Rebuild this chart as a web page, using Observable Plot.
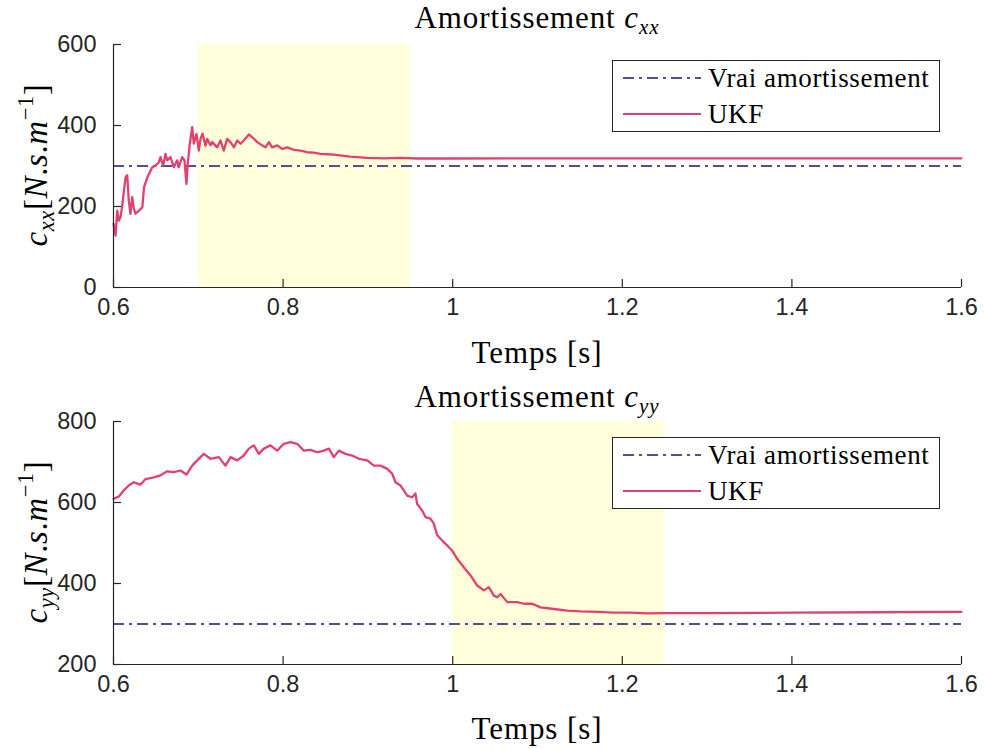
<!DOCTYPE html>
<html><head><meta charset="utf-8">
<script src="https://cdn.jsdelivr.net/npm/d3@7"></script>
<script src="https://cdn.jsdelivr.net/npm/@observablehq/plot@0.6"></script>
<style>
body{margin:0;background:#fff;}
#fig{position:relative;width:984px;height:749px;overflow:hidden;background:#fff;}
.pl{position:absolute;left:0;}
.txt{position:absolute;font-family:"Liberation Serif","Times New Roman",serif;color:#000;white-space:nowrap;transform:translate(-50%,-50%);line-height:1;}
.ttl{font-size:31px;letter-spacing:0.9px;}
.ylab{font-size:33px;letter-spacing:0.6px;transform:translate(-50%,-50%) rotate(-90deg);}
sub,sup{font-size:68%;line-height:0;}
sub{vertical-align:-0.32em;}
sup{vertical-align:0.62em;}
.leg{position:absolute;border:1.3px solid #262626;background:#fff;box-sizing:border-box;}
.legrow{position:absolute;left:0;font-family:"Liberation Serif","Times New Roman",serif;font-size:27px;letter-spacing:0.6px;color:#000;white-space:nowrap;line-height:1;}
.legrow svg{position:absolute;left:9px;}
.legrow span{position:absolute;left:95px;transform:translateY(-50%);}
</style></head>
<body>
<div id="fig"></div>
<script>
// ---------- data ----------
const xDomain = [0.6, 1.6];
const xTicks = [0.6, 0.8, 1, 1.2, 1.4, 1.6];
const cxxTicks = [0, 200, 400, 600];
const cyyTicks = [200, 400, 600, 800];
const cxxTrue = [300];
const cyyTrue = [300];
const cxxBand = [[0.7, 0.95]];
const cyyBand = [[1.0, 1.25]];

const cxxTime = [0.600,0.6024,0.6044,0.6063,0.6083,0.610,0.6142,0.6162,0.618,0.620,0.622,0.624,0.626,0.630,0.634,0.636,0.640,0.6456,0.6495,0.6534,0.6554,0.6586,0.6613,0.6633,0.6672,0.6711,0.6751,0.677,0.681,0.6837,0.686,0.6876,0.690,0.6928,0.6947,0.6979,0.7006,0.7026,0.705,0.7085,0.7105,0.7144,0.7164,0.7223,0.7262,0.730,0.734,0.738,0.742,0.7459,0.7498,0.7537,0.7596,0.7636,0.7695,0.7753,0.7792,0.7832,0.7871,0.793,0.799,0.8048,0.8127,0.8205,0.8284,0.836,0.844,0.852,0.8598,0.879,0.899,0.919,0.938,0.958,0.997,1.2,1.6];
const cxxUKF  = [157,128,190,165,174,198,272,277,215,182,223,195,182,190,198,248,272,297,301,309,322,301,330,314,322,297,314,297,322,314,256,305,355,396,355,379,338,367,380,350,367,351,359,346,363,338,367,359,346,363,355,363,378,371,359,351,346,359,346,351,342,346,340,338,334,333,330,329,328,323,320,319,320,318.5,318.5,319,319];

const cyyTime = [0.600,0.6063,0.6122,0.618,0.624,0.6318,0.6377,0.6475,0.6554,0.6633,0.6711,0.679,0.686,0.6928,0.6987,0.7065,0.7144,0.7242,0.732,0.738,0.7459,0.7537,0.7596,0.7655,0.7714,0.7773,0.785,0.793,0.8008,0.8087,0.8166,0.8244,0.8323,0.840,0.848,0.854,0.8598,0.8657,0.8736,0.8815,0.8893,0.8992,0.907,0.9149,0.9228,0.9287,0.9325,0.9384,0.9423,0.9463,0.9522,0.9561,0.958,0.964,0.9679,0.9738,0.9777,0.9817,0.9876,0.9935,0.9994,1.0053,1.0131,1.021,1.0289,1.0367,1.0426,1.0485,1.0525,1.0564,1.0643,1.076,1.0839,1.0937,1.1035,1.1192,1.135,1.1507,1.1704,1.19,1.2097,1.2294,1.249,1.2686,1.3,1.4,1.5,1.6];
const cyyUKF  = [609,615,630,642,650,644,658,662,667,677,675,679,669,691,704,720,708,712,691,712,704,716,733,741,720,733,741,728,745,749,745,728,730,724,728,733,712,728,720,716,708,704,691,691,683,671,650,642,630,617,613,622,597,580,564,560,548,519,506,494,481,461,440,420,395,383,391,370,366,374,354,354,350,350,341,337,333,331,330,328,328,326,327,327,327,328,329,330];

// ---------- styles ----------
const AX = "#262626";
const UKF_COLOR = "#E2416F";
const TRUE_COLOR = "#5B4A94";
const BAND_COLOR = "#FFFFDB";
const DASH = "11,5,3,5";

function panel(time, vals, trueV, band, yDomain, yTicks, h, mt, mb) {
  const data = time.map((t, i) => ({t, v: vals[i]}));
  const ml = 113, mr = 23, W = 984;
  const innerH = h - mt - mb, innerW = W - ml - mr;
  return Plot.plot({
    width: W, height: h, marginTop: mt, marginBottom: mb, marginLeft: ml, marginRight: mr,
    style: {fontFamily: '"Liberation Sans", Arial, sans-serif', fontSize: "23px", color: AX, background: "transparent", overflow: "visible"},
    x: {domain: xDomain},
    y: {domain: yDomain},
    marks: [
      Plot.rect(band, {x1: d => d[0], x2: d => d[1], fill: BAND_COLOR}),
      Plot.ruleY(trueV, {stroke: TRUE_COLOR, strokeWidth: 2, strokeDasharray: DASH}),
      Plot.line(data, {x: "t", y: "v", stroke: UKF_COLOR, strokeWidth: 2.3, strokeLinejoin: "round"}),
      Plot.ruleX([xDomain[0]], {stroke: AX, strokeWidth: 1.2}),
      Plot.ruleY([yDomain[0]], {stroke: AX, strokeWidth: 1.2}),
      Plot.tickX(xTicks, {x: d => d, insetTop: innerH - 8, stroke: AX, strokeWidth: 1.2}),
      Plot.tickY(yTicks, {y: d => d, insetRight: innerW - 8, stroke: AX, strokeWidth: 1.2}),
      Plot.axisX(xTicks, {tickSize: 0, tickPadding: 11, tickFormat: d => String(d), label: null, fill: AX, fontSize: 23.5}),
      Plot.axisY(yTicks, {tickSize: 0, tickPadding: 17, tickFormat: d => String(d), label: null, fill: AX, fontSize: 23.5})
    ]
  });
}

const fig = document.getElementById("fig");
const topPanel = panel(cxxTime, cxxUKF, cxxTrue, cxxBand, [0, 600], cxxTicks, 374, 44, 87);
topPanel.classList.add("pl"); topPanel.style.top = "0px";
fig.appendChild(topPanel);
const botPanel = panel(cyyTime, cyyUKF, cyyTrue, cyyBand, [200, 800], cyyTicks, 375, 47, 85);
botPanel.classList.add("pl"); botPanel.style.top = "374px";
fig.appendChild(botPanel);

function addText(cls, html, x, y) {
  const d = document.createElement("div");
  d.className = "txt " + cls;
  d.innerHTML = html;
  d.style.left = x + "px"; d.style.top = y + "px";
  fig.appendChild(d);
}
addText("ttl", 'Amortissement <i>c</i><sub><i>xx</i></sub>', 537, 17);
addText("ttl", 'Amortissement <i>c</i><sub><i>yy</i></sub>', 537, 396);
addText("ttl", 'Temps [s]', 537, 352);
addText("ttl", 'Temps [s]', 537, 728);
addText("ylab", '<i>c</i><sub><i>xx</i></sub>[<i>N</i>.<i>s</i>.<i>m</i><sup>−1</sup>]', 36, 165);
addText("ylab", '<i>c</i><sub><i>yy</i></sub>[<i>N</i>.<i>s</i>.<i>m</i><sup>−1</sup>]', 36, 542);

function addLegend(x, y) {
  const L = document.createElement("div");
  L.className = "leg";
  L.style.left = x + "px"; L.style.top = y + "px";
  L.style.width = "328px"; L.style.height = "72px";
  const rows = [
    {label: "Vrai amortissement", color: TRUE_COLOR, dash: DASH, cy: 17},
    {label: "UKF", color: UKF_COLOR, dash: null, cy: 53}
  ];
  rows.forEach(r => {
    const row = document.createElement("div");
    row.className = "legrow";
    row.style.top = r.cy + "px";
    row.innerHTML = `<svg width="80" height="6" style="top:-3px"><line x1="1" x2="79" y1="3" y2="3" stroke="${r.color}" stroke-width="2.2" ${r.dash ? `stroke-dasharray="${r.dash}"` : ""}/></svg><span>${r.label}</span>`;
    L.appendChild(row);
  });
  fig.appendChild(L);
}
addLegend(612, 60);
addLegend(612, 437);
</script>
</body></html>
